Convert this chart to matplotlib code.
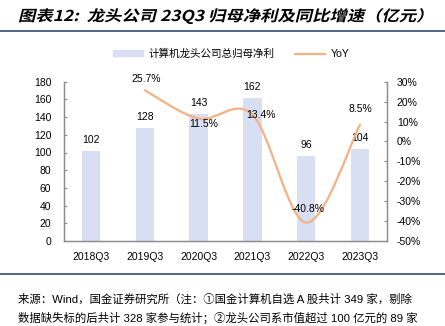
import numpy as np
import matplotlib
matplotlib.use('Agg')
import matplotlib.pyplot as plt
from matplotlib.path import Path
from matplotlib.patches import PathPatch, Patch
from matplotlib.lines import Line2D
from matplotlib.textpath import TextPath
from matplotlib.font_manager import FontProperties
from matplotlib.transforms import Affine2D, IdentityTransform

# net profit of leading companies (100m yuan) and YoY growth (%)
quarters = ['2018Q3', '2019Q3', '2020Q3', '2021Q3', '2022Q3', '2023Q3']
profit = [102, 128, 143, 162, 96, 104]
yoy_quarters = ['2019Q3', '2020Q3', '2021Q3', '2022Q3', '2023Q3']
yoy = [25.7, 11.5, 13.4, -40.8, 8.5]

title = '图表12:  龙头公司 23Q3 归母净利及同比增速（亿元）'
bar_name = '计算机龙头公司总归母净利'
line_name = 'YoY'
note1 = '来源：Wind，国金证券研究所（注：①国金计算机自选 A 股共计 349 家，剔除'
note2 = '数据缺失标的后共计 328 家参与统计；②龙头公司系市值超过 100 亿元的 89 家'

plt.rcParams['font.family'] = ['Liberation Sans', 'Noto Sans CJK SC']
plt.rcParams['font.size'] = 7.5

bar_color = '#D9DFF2'
line_color = '#F4B183'
spine_color = '#8C8C8C'
rule_color = '#3E5C7C'

W, H = 445, 326
fig = plt.figure(figsize=(W / 100, H / 100), dpi=100)
ax = fig.add_axes([64 / W, 1 - 241 / H, (387 - 64) / W, (241 - 81.7) / H])
ax2 = ax.twinx()

# bars
x = np.arange(len(quarters))
ax.bar(x, profit, width=0.34, color=bar_color, zorder=1)
for xi, v in zip(x, profit):
    ax.annotate(str(v), (xi, v), xytext=(0, 8), textcoords='offset points',
                ha='center', va='center', fontsize=7.5)

ax.set_xlim(-0.5, len(quarters) - 0.5)
ax.set_ylim(0, 180)
ax.set_yticks(range(0, 181, 20))
ax.set_xticks(x)
ax.set_xticklabels(quarters)

# smoothed YoY line (catmull-rom style bezier through the points)
px = np.array([quarters.index(q) for q in yoy_quarters], dtype=float)
py = np.array(yoy, dtype=float)
verts = [(px[0], py[0])]
codes = [Path.MOVETO]
n = len(px)
for i in range(n - 1):
    i0, i3 = max(i - 1, 0), min(i + 2, n - 1)
    c1 = (px[i] + (px[i + 1] - px[i0]) / 6, py[i] + (py[i + 1] - py[i0]) / 6)
    c2 = (px[i + 1] - (px[i3] - px[i]) / 6, py[i + 1] - (py[i3] - py[i]) / 6)
    verts += [c1, c2, (px[i + 1], py[i + 1])]
    codes += [Path.CURVE4] * 3
ax2.add_patch(PathPatch(Path(verts, codes), fill=False, edgecolor=line_color,
                        lw=1.6, capstyle='round', zorder=3))

label_offsets = [(1, 8), (4, -4), (6, 0), (1, 10), (0, 11.5)]
for xi, v, off in zip(px, yoy, label_offsets):
    ax2.annotate('%.1f%%' % v, (xi, v), xytext=off, textcoords='offset points',
                 ha='center', va='center', fontsize=7.5)

ax2.set_ylim(-50, 30)
ax2.set_yticks(range(-50, 31, 10))
ax2.set_yticklabels(['%d%%' % t for t in range(-50, 31, 10)])

# axis styling
for a in (ax, ax2):
    for s in a.spines.values():
        s.set_color(spine_color)
        s.set_linewidth(0.9)
    a.spines['top'].set_visible(False)
ax.tick_params(axis='y', direction='in', length=2, color=spine_color, pad=9)
ax.tick_params(axis='x', length=0, pad=8)
ax2.tick_params(axis='y', direction='in', length=2, color=spine_color, pad=7)

# legend
handles = [Patch(color=bar_color), Line2D([], [], color=line_color, lw=1.6)]
fig.legend(handles, [bar_name, line_name], ncol=2, frameon=False,
           loc='center', bbox_to_anchor=(231 / W, 1 - 54 / H),
           handlelength=2.9, handleheight=0.5, handletextpad=0.5,
           columnspacing=1.9, fontsize=7.6)

# title drawn as a slanted, slightly stretched text path
fp = FontProperties(family='Noto Sans CJK SC', weight='bold')
tp = TextPath((0, 0), title, size=15, prop=fp)
tw = tp.get_extents().x1
tt = Affine2D().skew_deg(12, 0).scale(404 / tw, 1).translate(18, H - 21)
fig.add_artist(PathPatch(tt.transform_path(tp), transform=IdentityTransform(),
                         facecolor='black', edgecolor='none'))

# rules under title and above notes
fig.add_artist(Line2D([0, 1], [1 - 31 / H] * 2, transform=fig.transFigure,
                      color=rule_color, lw=1.3))
fig.add_artist(Line2D([0, 1], [1 - 274 / H] * 2, transform=fig.transFigure,
                      color=rule_color, lw=1.3))

fig.text(18 / W, 1 - 299 / H, note1, fontsize=8.2, va='center')
fig.text(18 / W, 1 - 318 / H, note2, fontsize=8.2, va='center')

fig.savefig('out.png', dpi=100)
